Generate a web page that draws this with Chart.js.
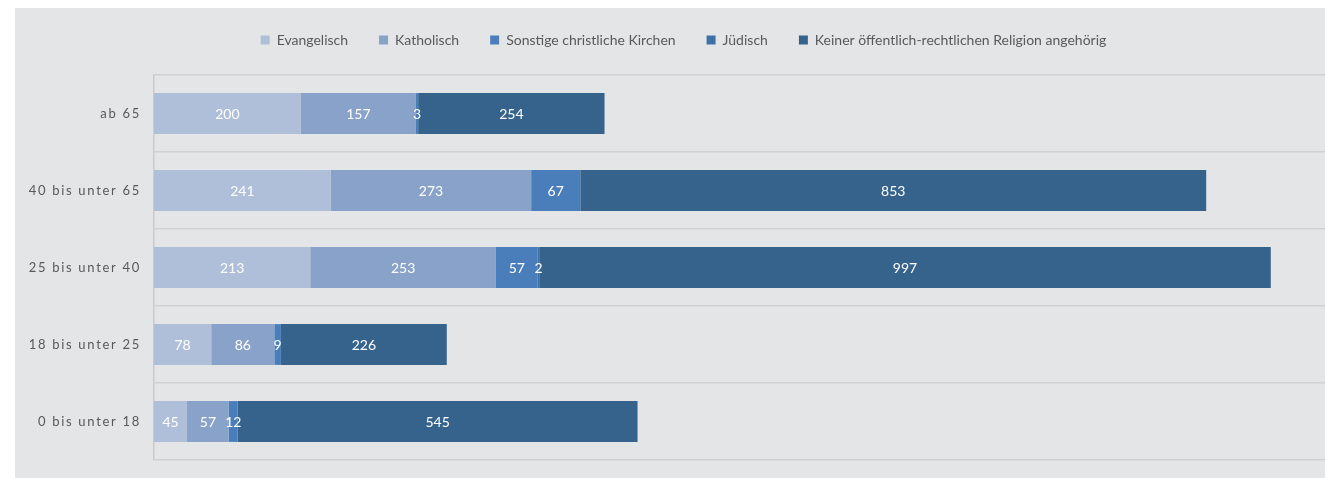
<!DOCTYPE html>
<html lang="de">
<head>
    <meta charset="UTF-8">
    <title>Religionszugehörigkeit nach Alter</title>
    <script src="https://cdn.jsdelivr.net/npm/chart.js@4/dist/chart.umd.min.js"></script>
    <style>
        html, body { margin: 0; padding: 0; background: #fff; overflow: hidden; }
        #box {
            position: absolute; left: 15px; top: 8px;
            width: 1320px; height: 470px;
            background: #e4e5e7;
        }
        #wrap { position: absolute; left: 15px; top: 8px; right: 0; bottom: 0; background: #e4e5e7; }
    </style>
</head>
<body>
<div id="wrap"></div>
<div id="box"><canvas id="main_chart"></canvas></div>
<script>
    const categories = ['ab 65', '40 bis unter 65', '25 bis unter 40', '18 bis unter 25', '0 bis unter 18'];
    const evangelisch = [200, 241, 213, 78, 45];
    const katholisch = [157, 273, 253, 86, 57];
    const sonstige = [3, 67, 57, 9, 12];
    const juedisch = [0, 0, 2, 0, 0];
    const keiner = [254, 853, 997, 226, 545];

    const FONT = 'Lato';
    const TEXT_GREY = '#595959';

    // y labels in the original are set with extra tracking; also let them reach into the left padding
    const spacedTicks = {
        id: 'spacedTicks',
        afterLayout(chart) {
            const s = chart.scales.y;
            if (s.__spaced) return;
            const orig = s.drawLabels;
            s._computeLabelArea = () => undefined;
            s.drawLabels = function (area) {
                this.ctx.save();
                this.ctx.letterSpacing = '1.7px';
                orig.call(this, area);
                this.ctx.restore();
            };
            s.__spaced = true;
        }
    };

    // white value labels centred in each segment
    const valueLabels = {
        id: 'valueLabels',
        afterDatasetsDraw(chart) {
            const ctx = chart.ctx;
            ctx.save();
            ctx.font = '14px ' + FONT;
            ctx.fillStyle = '#ffffff';
            ctx.textAlign = 'center';
            ctx.textBaseline = 'middle';
            chart.data.datasets.forEach((ds, di) => {
                const meta = chart.getDatasetMeta(di);
                meta.data.forEach((el, i) => {
                    const v = ds.data[i];
                    if (!v) return;
                    const p = el.getProps(['x', 'base', 'y'], true);
                    ctx.fillText(String(v), (p.x + p.base) / 2, p.y + 1);
                });
            });
            ctx.restore();
        }
    };

    const chart = new Chart(document.getElementById('main_chart'), {
        type: 'bar',
        data: {
            labels: categories,
            datasets: [
                {label: 'Evangelisch', data: evangelisch, backgroundColor: '#afbfd9'},
                {label: 'Katholisch', data: katholisch, backgroundColor: '#88a2ca'},
                {label: 'Sonstige christliche Kirchen', data: sonstige, backgroundColor: '#4a7ebb'},
                {label: 'Jüdisch', data: juedisch, backgroundColor: '#3e70a8'},
                {label: 'Keiner öffentlich-rechtlichen Religion angehörig', data: keiner, backgroundColor: '#35638c'}
            ]
        },
        options: {
            indexAxis: 'y',
            responsive: true,
            maintainAspectRatio: false,
            animation: false,
            barPercentage: 0.53,
            categoryPercentage: 1,
            layout: {padding: {top: -6, right: 7, bottom: 18, left: 24}},
            scales: {
                x: {
                    stacked: true,
                    position: 'top',
                    min: 0,
                    max: 1600,
                    grid: {display: false, drawTicks: false},
                    border: {display: false},
                    ticks: {display: false},
                    afterFit(s) { s.height = 18; }
                },
                y: {
                    stacked: true,
                    grid: {color: '#d0d1d3', lineWidth: 1.5, drawTicks: false, offset: true},
                    border: {color: '#c9cacc', width: 1.5},
                    ticks: {color: TEXT_GREY, font: {family: FONT, size: 13}, padding: 13},
                    afterFit(s) {
                        s.width = 115;
                        s.paddingTop = 0;
                        s.paddingBottom = 0;
                    }
                }
            },
            plugins: {
                legend: {
                    position: 'top',
                    labels: {
                        color: TEXT_GREY,
                        font: {family: FONT, size: 14},
                        boxWidth: 9,
                        boxHeight: 9,
                        padding: 31
                    }
                },
                tooltip: {enabled: false}
            }
        },
        plugins: [spacedTicks, valueLabels]
    });
</script>
</body>
</html>
